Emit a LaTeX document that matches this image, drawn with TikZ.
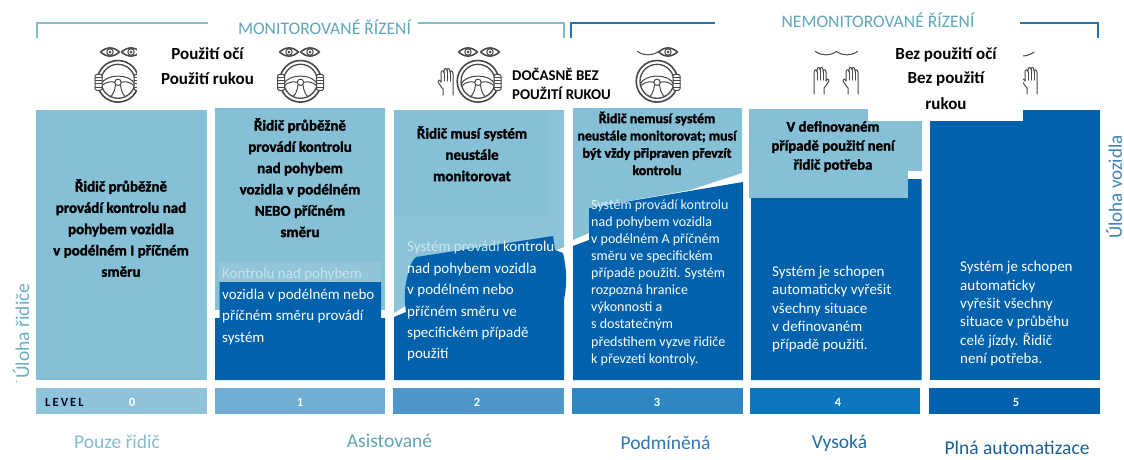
\documentclass[tikz,border=0pt]{standalone}
\usepackage{fontspec}
\setmainfont{Carlito}
\newfontfamily\heavyf[FakeBold=1.8]{Carlito Bold}
\definecolor{lt}{HTML}{86C0D7}
\definecolor{lt2}{HTML}{8BC3D9}
\definecolor{lt3}{HTML}{92C5DA}
\definecolor{dk}{HTML}{0061AD}
\definecolor{ic}{HTML}{484848}
\definecolor{brA}{HTML}{7FBDCB}
\definecolor{brB}{HTML}{1F74B8}
\definecolor{titl}{HTML}{5FA8BC}
\tikzset{
  x=1pt,y=-1pt,
  iconline/.style={draw=ic,line width=1pt,line cap=round,line join=round},
  blacktxt/.style n args={2}{font=\heavyf\fontsize{#1}{#2}\selectfont,text=black,align=center,inner sep=0pt,anchor=north},
  whitetxt/.style={font=\fontsize{#1}{#1}\selectfont,text=white,align=left,inner sep=0pt,anchor=base west},
  headtxt/.style={font=\bfseries\fontsize{17}{25}\selectfont,text=black,align=center,inner sep=0pt},
  bartxt/.style={font=\bfseries\fontsize{12.5}{13}\selectfont,text=white,inner sep=0pt},
  levelbar/.style={inner sep=0pt,outer sep=0pt,minimum height=26pt,anchor=north west},
  lowtxt/.style={font=\fontsize{19.5}{21}\selectfont,inner sep=0pt,anchor=base},
  openeye/.pic={
    \fill[ic] (-10.5,0) .. controls (-4,-6.5) and (4,-6.5) .. (10.5,0) .. controls (4,6.5) and (-4,6.5) .. (-10.5,0) -- cycle;
    \fill[white] (-8,0) .. controls (-3,-4.4) and (3,-4.4) .. (8,0) .. controls (3,4.4) and (-3,4.4) .. (-8,0) -- cycle;
    \draw[iconline] (0,0) circle (3.2pt);
    \fill[ic] (0,0) circle (1.5pt);
  },
  shuteye/.pic={
    \draw[iconline] (-10.5,-1.5) .. controls (-4,3) and (4,3) .. (10.5,-1.5);
  },
  steerwheel/.pic={
    \draw[iconline,line width=1.6pt] (0,0) circle (20.8pt);
    \draw[iconline,line width=1.3pt] (0,0) circle (17pt);
    \draw[iconline] (-17,3) .. controls (-12,-8) and (12,-8) .. (17,3);
    \draw[iconline] (0,1) circle (3.2pt);
    \draw[iconline] (-17,5) .. controls (-12,0) and (-6,0) .. (-3.2,1);
    \draw[iconline] (17,5) .. controls (12,0) and (6,0) .. (3.2,1);
    \draw[iconline] (-2.5,3.5) .. controls (-3,10) and (-6,15) .. (-8,15.5);
    \draw[iconline] (2.5,3.5) .. controls (3,10) and (6,15) .. (8,15.5);
  },
  wheelgrip/.pic={
    \draw[iconline,fill=white,rounded corners=1.5pt] (16,-7) rectangle (23,9);
    \foreach \gy in {-3.8,-0.6,2.6,5.8}{\draw[iconline] (16,\gy) -- (23,\gy);}
  },
  raisedhand/.pic={
    \draw[iconline] (-6,1) -- (-6,-8) .. controls (-6,-11) and (-3,-11) .. (-3,-8)
      -- (-3,-10) .. controls (-3,-13.5) and (0,-13.5) .. (0,-10)
      -- (0,-10) .. controls (0,-13.5) and (3,-13.5) .. (3,-9)
      -- (3,-8) .. controls (3,-11) and (6,-11) .. (6,-7) -- (6,14);
    \draw[iconline] (-3,-8) -- (-3,0);
    \draw[iconline] (0,-10) -- (0,0);
    \draw[iconline] (3,-8) -- (3,0);
    \draw[iconline] (-6,1) .. controls (-7,-2) and (-9.5,-1) .. (-9,1) .. controls (-8,4) and (-5,6) .. (-4,8) -- (-4,14);
  },
}
\begin{document}
\begin{tikzpicture}
\useasboundingbox (0,0) rectangle (1124,459);
\fill[white] (0,0) rectangle (1124,459);

% brackets
\draw[brA,line width=1.1pt] (37,38) -- (37,23) -- (208,23);
\draw[brA,line width=1.1pt] (418,23) -- (564,23) -- (564,38);
\draw[brB,line width=1.1pt] (571,38) -- (571,23) -- (715,23);
\draw[brB,line width=1.1pt] (1020,23) -- (1098,23) -- (1098,38);

% icons
\pic at (110,52) {openeye};
\pic at (131,52) {openeye};
\pic at (118,81.3) {steerwheel};
\pic at (118,81.3) {wheelgrip};
\pic[xscale=-1] at (118,81.3) {wheelgrip};
\fill[white] (137,40) rectangle (270,105);
\pic at (289,52) {openeye};
\pic at (310,52) {openeye};
\pic at (300.5,81.3) {steerwheel};
\pic at (300.5,81.3) {wheelgrip};
\pic[xscale=-1] at (300.5,81.3) {wheelgrip};
\pic at (468,52) {openeye};
\pic at (490,52) {openeye};
\pic at (478,81.3) {steerwheel};
\pic at (478,81.3) {wheelgrip};
\pic at (447,81) {raisedhand};
\pic at (648,53) {shuteye};
\pic at (668,52) {openeye};
\pic at (657,81.3) {steerwheel};
\pic at (657,81.3) {wheelgrip};
\pic at (826,53) {shuteye};
\pic at (847,53) {shuteye};
\pic[xscale=-1] at (820,80) {raisedhand};
\pic at (852,80) {raisedhand};
\draw[iconline] (1022,56) .. controls (1026,56) and (1030,55) .. (1034,52);
\pic at (1031,80) {raisedhand};

% headings at top
\node[headtxt] (oci) at (207.5,54) {Použití očí};
\node[headtxt] (ruce) at (207.5,79) {Použití rukou};
\node[font=\bfseries\fontsize{14.9}{19}\selectfont,align=left,inner sep=0pt,anchor=north west] (docasne) at (512,68) {DOČASNĚ BEZ\\POUŽITÍ RUKOU};

% column 0
\fill[lt] (36,110) rectangle (207,380);
\node[blacktxt={15}{21.3pt}] (c0) at (121,179) {Řidič průběžně\\provádí kontrolu nad\\pohybem vozidla\\v podélném I příčném\\směru};

% column 1
\fill[lt] (215,108) rectangle (385,310);
\fill[lt3] (219,262) rectangle (381,282);
\fill[dk] (219.5,282) -- (381,282) -- (381,318) -- (385,318) -- (385,380) -- (215,380) -- (215,318) -- (219.5,318) -- cycle;
\node[blacktxt={15}{21.3pt}] (c1) at (300,118) {Řidič průběžně\\provádí kontrolu\\nad pohybem\\vozidla v podélném\\NEBO příčném\\směru};
\node[whitetxt=15,text=white!55!lt] (c1a) at (222,278) {Kontrolu nad pohybem};
\node[whitetxt=15] (c1b) at (222,299) {vozidla v podélném nebo};
\node[whitetxt=15] (c1c) at (222,320.5) {příčném směru provádí};
\node[whitetxt=15] (c1d) at (222,342) {systém};

% column 2
\fill[lt2] (394,110) -- (564,110) -- (564,247) -- (407,305) -- (394,313) -- cycle;
\fill[lt] (394,110) rectangle (547,216);
\fill[dk] (394,317) -- (406,312) .. controls (404,300) and (405,285) .. (407,278) .. controls (409,268) and (412,260) .. (416,257) -- (553,236) -- (555,250) -- (563,253) .. controls (567,270) and (567,285) .. (564,300) -- (564,380) -- (394,380) -- cycle;
\node[blacktxt={15}{21.3pt}] (c2) at (472,126) {Řidič musí systém\\neustále\\monitorovat};
\node[whitetxt=15,text=white!60!lt] (c2a) at (407,251.5) {Systém provádí \textcolor{white}{kontrolu}};
\node[whitetxt=15] (c2b) at (407,273) {nad pohybem vozidla};
\node[whitetxt=15] (c2c) at (407,294.5) {v podélném nebo};
\node[whitetxt=15] (c2d) at (407,316) {příčném směru ve};
\node[whitetxt=15] (c2e) at (407,337) {specifickém případě};
\node[whitetxt=15] (c2f) at (407,358) {použití};

% column 3
\fill[lt] (573,108) -- (742,108) -- (742,173) -- (690,190) -- (589,208) -- (589,233) -- (573,240) -- cycle;
\fill[dk] (589,208) -- (743,182) -- (743,380) -- (573,380) -- (573,246) -- (589,240) -- cycle;
\node[blacktxt={13.9}{17.3pt}] (c3) at (657,111.5) {Řidič nemusí systém\\neustále monitorovat; musí\\být vždy připraven převzít\\kontrolu};
\node[whitetxt=14,text=white!85!lt] (c3a) at (591,209) {Systém provádí kontrolu};
\node[whitetxt=14] (c3b) at (591,226) {nad pohybem vozidla};
\node[whitetxt=14] (c3c) at (591,243) {v podélném A příčném};
\node[whitetxt=14] (c3d) at (591,260.5) {směru ve specifickém};
\node[whitetxt=14] (c3e) at (591,277.5) {případě použití. Systém};
\node[whitetxt=14] (c3f) at (591,294.5) {rozpozná hranice};
\node[whitetxt=14] (c3g) at (591,311.5) {výkonnosti a};
\node[whitetxt=14] (c3h) at (591,328.5) {s dostatečným};
\node[whitetxt=14] (c3i) at (591,346) {předstihem vyzve řidiče};
\node[whitetxt=14] (c3j) at (591,363) {k převzetí kontroly.};

% column 4
\fill[lt] (749,109) rectangle (908,198);
\fill[lt] (908,121) rectangle (921.5,171);
\fill[dk] (908,179) -- (921.5,179) -- (921.5,380) -- (751,380) -- (751,198) -- (908,198) -- cycle;
\node[blacktxt={14.8}{19pt}] (c4) at (833,121) {V definovaném\\případě použití není\\řidič potřeba};
\node[whitetxt=15] (c4a) at (772,276) {Systém je schopen};
\node[whitetxt=15] (c4b) at (772,294.5) {automaticky vyřešit};
\node[whitetxt=15] (c4c) at (772,313) {všechny situace};
\node[whitetxt=15] (c4d) at (772,331) {v definovaném};
\node[whitetxt=15] (c4e) at (772,349.5) {případě použití.};

% column 5
\fill[dk] (930,110) rectangle (1100,380);
\fill[white] (868,40) rectangle (1023,121);
\node[headtxt] (bez1) at (946,55) {Bez použití očí};
\node[headtxt] (bez2) at (946,79) {Bez použití};
\node[headtxt] (bez3) at (946,104) {rukou};
\node[whitetxt=15] (c5a) at (960,271.5) {Systém je schopen};
\node[whitetxt=15] (c5b) at (960,290) {automaticky};
\node[whitetxt=15] (c5c) at (960,308) {vyřešit všechny};
\node[whitetxt=15] (c5d) at (960,326.5) {situace v průběhu};
\node[whitetxt=15] (c5e) at (960,345) {celé jízdy. Řidič};
\node[whitetxt=15] (c5f) at (960,363) {není potřeba.};

% titles
\node[text=titl,font=\fontsize{17.6}{18}\selectfont,inner sep=0pt] (monit) at (324.5,27) {MONITOROVANÉ ŘÍZENÍ};
\node[text=titl,font=\fontsize{17.6}{18}\selectfont,inner sep=0pt] (nemonit) at (878,20) {NEMONITOROVANÉ ŘÍZENÍ};

% level bars
\node[levelbar,fill={rgb,255:red,143;green,195;blue,218},minimum width=171pt] (l0) at (36,388) {};
\node[levelbar,fill={rgb,255:red,114;green,174;blue,211},minimum width=170pt] (l1) at (215,388) {};
\node[levelbar,fill={rgb,255:red,79;green,150;blue,202},minimum width=171pt] (l2) at (393,388) {};
\node[levelbar,fill={rgb,255:red,46;green,134;blue,195},minimum width=171pt] (l3) at (572,388) {};
\node[levelbar,fill={rgb,255:red,13;green,119;blue,189},minimum width=170pt] (l4) at (750,388) {};
\node[levelbar,fill={rgb,255:red,0;green,98;blue,174},minimum width=171pt] (l5) at (929,388) {};
\node[font=\bfseries\fontsize{12.5}{13}\selectfont,text=black!85!blue,inner sep=0pt,anchor=base west] (lev) at (45,406) {L\,E\,V\,E\,L};
\node[bartxt] (n0) at (132,402) {0};
\node[bartxt] (n1) at (300,402) {1};
\node[bartxt] (n2) at (477,402) {2};
\node[bartxt] (n3) at (657,402) {3};
\node[bartxt] (n4) at (838,402) {4};
\node[bartxt] (n5) at (1016,402) {5};

% lower labels
\node[lowtxt,text={rgb,255:red,134;green,188;blue,207}] (q0) at (117,448) {Pouze řidič};
\node[lowtxt,text={rgb,255:red,95;green,163;blue,182}] (q1) at (389.5,447) {Asistované};
\node[lowtxt,text={rgb,255:red,47;green,120;blue,181}] (q3) at (665.5,449) {Podmíněná};
\node[lowtxt,text={rgb,255:red,31;green,107;blue,168}] (q4) at (839.5,448) {Vysoká};
\node[lowtxt,text={rgb,255:red,27;green,95;blue,143}] (q5) at (1017,454.5) {Plná automatizace};

% side labels
\node[rotate=90,font=\fontsize{19.5}{20}\selectfont,text={rgb,255:red,108;green,176;blue,198},inner sep=0pt] (s0) at (21,331) {Úloha řidiče};
\draw[lt!60!white,line width=0.8pt] (16,380) -- (16,383);
\node[rotate=90,font=\fontsize{19}{20}\selectfont,text={rgb,255:red,63;green,132;blue,179},inner sep=0pt] (s1) at (1114,187) {Úloha vozidla};
\end{tikzpicture}
\end{document}
